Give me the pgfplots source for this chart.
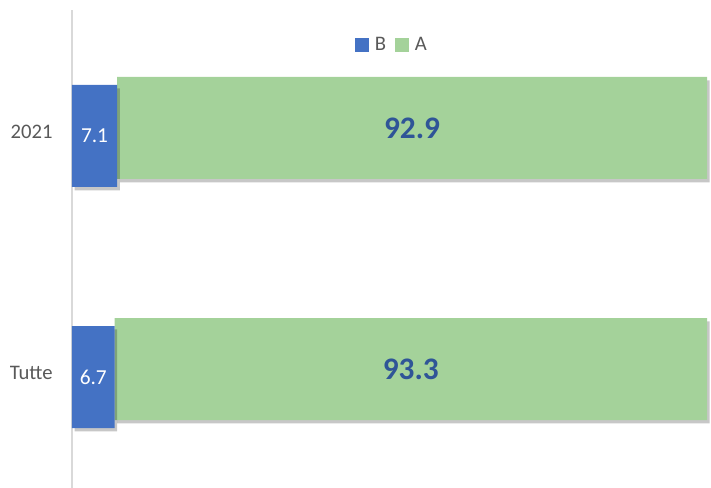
\documentclass[border=0pt]{standalone}
\usepackage{fontspec}
\setmainfont{Carlito}
\usepackage{pgfplots}
\pgfplotsset{compat=1.18}
\usetikzlibrary{shadows}
\definecolor{cB}{HTML}{4472C4}
\definecolor{cA}{HTML}{A4D29A}
\definecolor{cLab}{HTML}{2F5597}
\definecolor{cTick}{HTML}{595959}
\definecolor{cAxis}{HTML}{D9D9D9}
\begin{document}
\begin{tikzpicture}
\begin{axis}[
  at={(0pt,0pt)}, anchor=south west,
  scale only axis, width=476.25pt, height=358.5pt,
  xbar stacked, bar width=76.5pt,
  xmin=0, xmax=100,
  ymin=-0.477, ymax=1.506,
  ytick={0,1}, yticklabels={Tutte,2021},
  axis x line=none,
  axis y line*=left,
  axis line style={draw=cAxis, line width=1pt, -},
  y tick style={draw=none},
  major tick length=0pt,
  yticklabel style={font=\fontsize{15.5}{18}\selectfont, text=cTick, xshift=-11pt},
  legend style={at={(0.504,0.927)}, anchor=center, draw=none, fill=none,
    legend columns=-1, font=\fontsize{15.5}{18}\selectfont, text=cTick,
    /tikz/every odd column/.append style={column sep=3pt},
    /tikz/every even column/.append style={column sep=4.5pt}},
  clip=false,
]
\addlegendimage{legend image code/.code={\fill[cB] (0pt,-4.9pt) rectangle (9.75pt,4.9pt);}}
\addlegendentry{B}
\addlegendimage{legend image code/.code={\fill[cA] (0pt,-4.9pt) rectangle (9.75pt,4.9pt);}}
\addlegendentry{A}

\addplot+[forget plot, draw=none, fill=cB, bar shift=-3pt,
  drop shadow={shadow xshift=2pt, shadow yshift=-2.5pt, opacity=0.22, fill=black},
  point meta=explicit,
  nodes near coords={\pgfmathprintnumber[fixed,precision=1,fixed zerofill,assume math mode=true]{\pgfplotspointmeta}},
  every node near coord/.append style={anchor=center,
    font=\fontsize{16}{18}\selectfont, text=white}]
  coordinates {(6.7,0) [6.7] (7.1,1) [7.1]};

\addplot+[forget plot, draw=none, fill=cA, bar shift=3pt,
  drop shadow={shadow xshift=2pt, shadow yshift=-2.5pt, opacity=0.22, fill=black},
  point meta=explicit,
  nodes near coords={\pgfmathprintnumber[fixed,precision=1,fixed zerofill,assume math mode=true]{\pgfplotspointmeta}},
  every node near coord/.append style={anchor=center,
    font=\bfseries\fontsize{23.5}{28}\selectfont, text=cLab}]
  coordinates {(93.3,0) [93.3] (92.9,1) [92.9]};
\end{axis}
\pgfresetboundingbox
\useasboundingbox (-54pt,0pt) rectangle (479.25pt,366pt);
\end{tikzpicture}
\end{document}
